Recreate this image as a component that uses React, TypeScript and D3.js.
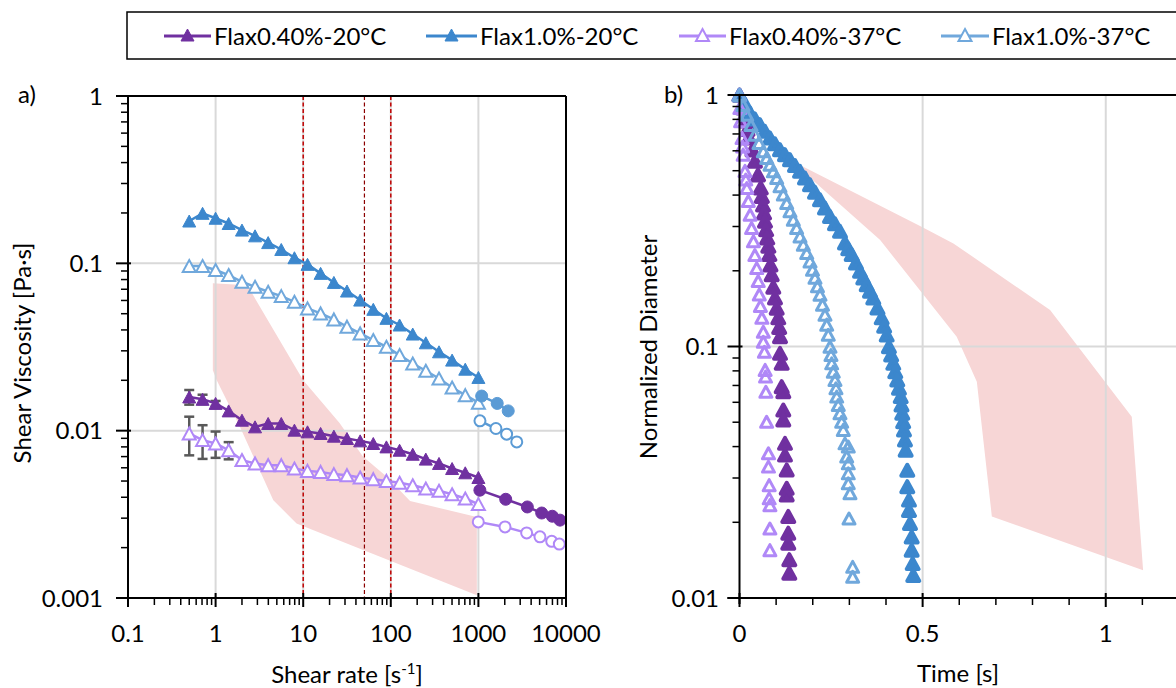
import React from 'react';
import * as d3 from 'd3';

// ---------- Panel a data: shear viscosity vs shear rate ----------
const SHEAR_RATE = [0.5, 0.71, 1.0, 1.41, 2.0, 2.82, 3.98, 5.62, 7.94, 11.2, 15.8, 22.4, 31.6, 44.7, 63.1, 89.1, 126, 178, 251, 355, 501, 708, 1000];
const VISC_040_20 = [0.0159, 0.0154, 0.01455, 0.01313, 0.01155, 0.01054, 0.01104, 0.01104, 0.01007, 0.00984, 0.00962, 0.00927, 0.00898, 0.00869, 0.00838, 0.008, 0.00764, 0.00723, 0.00676, 0.00637, 0.00594, 0.0056, 0.00525];
const VISC_10_20 = [0.179, 0.199, 0.186, 0.173, 0.158, 0.146, 0.133, 0.121, 0.108, 0.0986, 0.0871, 0.0769, 0.0683, 0.0603, 0.0531, 0.0469, 0.0428, 0.0378, 0.0335, 0.0296, 0.0264, 0.0233, 0.0208];
const VISC_040_37 = [0.00962, 0.00878, 0.00838, 0.00764, 0.00667, 0.00637, 0.00622, 0.00622, 0.00594, 0.00575, 0.00567, 0.0055, 0.00542, 0.00525, 0.00513, 0.00501, 0.00488, 0.00472, 0.00451, 0.00437, 0.00417, 0.00393, 0.00364];
const VISC_10_37 = [0.0964, 0.0964, 0.0912, 0.0851, 0.0776, 0.0724, 0.0676, 0.0637, 0.0589, 0.0538, 0.0502, 0.0462, 0.0418, 0.0381, 0.0348, 0.0317, 0.0283, 0.0252, 0.0228, 0.0205, 0.0181, 0.0163, 0.0147];
const ERR_040_20 = [0.0016, 0.001, 0.0005];
const ERR_040_37 = [0.0025, 0.002, 0.0015, 0.0009];

// high shear-rate continuation (circles)
const HI_RATE_040_20 = [1040, 2050, 3620, 5280, 6980, 8550];
const HI_VISC_040_20 = [0.00441, 0.00389, 0.0035, 0.00322, 0.00308, 0.00292];
const HI_RATE_040_37 = [997, 2014, 3556, 5045, 6870, 8390];
const HI_VISC_040_37 = [0.00285, 0.00266, 0.00245, 0.00232, 0.00218, 0.0021];
const HI_RATE_10_20 = [1090, 1640, 2190];
const HI_VISC_10_20 = [0.0161, 0.01455, 0.01313];
const HI_RATE_10_37 = [1042, 1585, 2100, 2740];
const HI_VISC_10_37 = [0.01145, 0.0103, 0.00953, 0.00857];

// shaded band (panel a)
const BAND_A_UP_X = [0.93, 2.3, 10, 26, 48, 90, 166, 960];
const BAND_A_UP_Y = [0.076, 0.074, 0.02, 0.0111, 0.007, 0.0053, 0.0038, 0.00305];
const BAND_A_LO_X = [0.93, 1.03, 1.9, 4.56, 8.4, 960];
const BAND_A_LO_Y = [0.023, 0.02, 0.0105, 0.00384, 0.00279, 0.00104];

// reference shear rates (vertical dashed lines)
const REF_RATES = [10, 50, 100];

// ---------- Panel b data: normalized diameter vs time ----------
const T_040_20 = [0, 0.0096, 0.0177, 0.0218, 0.0259, 0.0355, 0.0423, 0.0505, 0.0579, 0.0609, 0.0642, 0.0669, 0.0696, 0.0726, 0.0756, 0.0786, 0.0814, 0.0846, 0.0879, 0.0923, 0.0969, 0.1016, 0.1059, 0.1084, 0.1106, 0.1106, 0.1152, 0.1152, 0.1196, 0.1196, 0.1196, 0.1242, 0.1242, 0.1289, 0.1289, 0.1289, 0.1332, 0.1332, 0.1332, 0.136, 0.136];
const D_040_20 = [1, 0.888, 0.788, 0.729, 0.675, 0.604, 0.545, 0.481, 0.427, 0.395, 0.365, 0.3395, 0.315, 0.2913, 0.27, 0.2503, 0.232, 0.211, 0.193, 0.172, 0.156, 0.142, 0.13, 0.119, 0.1094, 0.0939, 0.0857, 0.0692, 0.0661, 0.0559, 0.051, 0.0412, 0.037, 0.0323, 0.0273, 0.0257, 0.0211, 0.0181, 0.0165, 0.0142, 0.01254];
const T_10_20 = [0, 0.015, 0.0287, 0.0423, 0.056, 0.0696, 0.0833, 0.0969, 0.1106, 0.1242, 0.1379, 0.1515, 0.1652, 0.1788, 0.1925, 0.2061, 0.2198, 0.2334, 0.2471, 0.2607, 0.2744, 0.288, 0.297, 0.3063, 0.318, 0.329, 0.338, 0.3473, 0.3563, 0.3653, 0.3767, 0.3882, 0.395, 0.4019, 0.408, 0.4141, 0.4199, 0.4253, 0.4308, 0.4354, 0.4401, 0.4423, 0.4444, 0.4469, 0.4491, 0.4518, 0.4537, 0.4581, 0.4581, 0.4627, 0.4627, 0.4655, 0.4701, 0.4701, 0.4728, 0.4745];
const D_10_20 = [1, 0.921, 0.848, 0.803, 0.762, 0.717, 0.675, 0.64, 0.606, 0.579, 0.553, 0.5245, 0.497, 0.4677, 0.44, 0.4108, 0.383, 0.3554, 0.329, 0.3075, 0.287, 0.258, 0.2446, 0.232, 0.2148, 0.199, 0.1872, 0.176, 0.1658, 0.156, 0.1422, 0.13, 0.1203, 0.111, 0.0998, 0.0925, 0.0857, 0.0794, 0.0736, 0.0682, 0.0632, 0.0585, 0.0543, 0.0502, 0.0466, 0.0425, 0.0387, 0.0322, 0.0277, 0.0245, 0.0223, 0.0198, 0.0175, 0.0155, 0.0137, 0.0123];
const T_040_37 = [0, 0.001, 0.003, 0.007, 0.0085, 0.01, 0.015, 0.0172, 0.02, 0.024, 0.029, 0.033, 0.038, 0.042, 0.047, 0.051, 0.054, 0.057, 0.061, 0.065, 0.065, 0.068, 0.07, 0.071, 0.072, 0.074, 0.079, 0.079, 0.081, 0.081, 0.083, 0.083, 0.083];
const D_040_37 = [1, 0.888, 0.786, 0.675, 0.624, 0.579, 0.499, 0.4613, 0.427, 0.379, 0.334, 0.296, 0.262, 0.231, 0.205, 0.182, 0.161, 0.145, 0.13, 0.1145, 0.1044, 0.0953, 0.0807, 0.0759, 0.0661, 0.0502, 0.0376, 0.0333, 0.0281, 0.0249, 0.0234, 0.0189, 0.0155];
const T_10_37 = [0, 0.0096, 0.0197, 0.0314, 0.0423, 0.0532, 0.065, 0.0743, 0.0833, 0.0923, 0.1016, 0.1106, 0.1196, 0.1289, 0.1379, 0.1469, 0.156, 0.1652, 0.1742, 0.1835, 0.1925, 0.1993, 0.2061, 0.2129, 0.2198, 0.2266, 0.2334, 0.2381, 0.2424, 0.2471, 0.2498, 0.2517, 0.2561, 0.2607, 0.2634, 0.2654, 0.2697, 0.2744, 0.279, 0.2834, 0.288, 0.297, 0.2927, 0.297, 0.297, 0.297, 0.3017, 0.299, 0.309, 0.309];
const D_10_37 = [1, 0.912, 0.835, 0.76, 0.695, 0.644, 0.597, 0.562, 0.528, 0.497, 0.468, 0.4335, 0.402, 0.372, 0.345, 0.319, 0.296, 0.274, 0.254, 0.2355, 0.218, 0.202, 0.1875, 0.1735, 0.1607, 0.1466, 0.1338, 0.1221, 0.1114, 0.0998, 0.0925, 0.0857, 0.0794, 0.0736, 0.0682, 0.0632, 0.0585, 0.0543, 0.0502, 0.0466, 0.0412, 0.04, 0.0365, 0.0343, 0.0313, 0.0286, 0.0261, 0.0207, 0.0133, 0.01215];

// shaded band (panel b)
const BAND_B_UP_T = [0.138, 0.497, 0.584, 0.848, 1.071, 1.102];
const BAND_B_UP_D = [0.551, 0.2995, 0.257, 0.1397, 0.0526, 0.0129];
const BAND_B_LO_T = [0.138, 0.384, 0.593, 0.648, 0.689, 1.102];
const BAND_B_LO_D = [0.551, 0.265, 0.1094, 0.0724, 0.0211, 0.0129];

// ---------- labels ----------
const SERIES_NAMES = ['Flax0.40%-20°C', 'Flax1.0%-20°C', 'Flax0.40%-37°C', 'Flax1.0%-37°C'];
const X_TICKS_A = [0.1, 1, 10, 100, 1000, 10000];
const Y_TICKS_A = [0.001, 0.01, 0.1, 1];
const X_TICKS_B = [0, 0.5, 1];
const Y_TICKS_B = [0.01, 0.1, 1];

const C_P20 = '#7030A0';
const C_B20 = '#3C87CD';
const C_P37 = '#B088F7';
const C_B37 = '#70A8DC';
const C_CIRC_B = '#5B9BD5';
const PINK = '#F7D6D6';
const GRID = '#D9D9D9';
const FONT = 'Lato, "Open Sans", sans-serif';
const FS = 24;

const A = { left: 128, right: 566, top: 96, bottom: 598 };
const B = { left: 739.5, right: 1179, top: 95, bottom: 598 };

function tri(cx: number, cy: number, w: number, h: number) {
  return `M${cx},${cy - h / 2}L${cx + w / 2},${cy + h / 2}L${cx - w / 2},${cy + h / 2}Z`;
}

function logMinor(lo: number, hi: number) {
  const out: number[] = [];
  for (let d = lo; d < hi * 0.999; d *= 10) {
    for (let m = 2; m <= 9; m++) out.push(d * m);
  }
  return out;
}

export default function App() {
  const xA = d3.scaleLog().domain([0.1, 10000]).range([A.left, A.right]);
  const yA = d3.scaleLog().domain([0.001, 1]).range([A.bottom, A.top]);
  const xB = d3.scaleLinear().domain([0, 1.2]).range([B.left, B.right]);
  const yB = d3.scaleLog().domain([0.01, 1]).range([B.bottom, B.top]);

  const lineA = d3.line<[number, number]>().x(d => xA(d[0])).y(d => yA(d[1]));
  const zip = (xs: number[], ys: number[]) => xs.map((x, i) => [x, ys[i]] as [number, number]);

  const bandA = [...zip(BAND_A_UP_X, BAND_A_UP_Y), ...zip(BAND_A_LO_X, BAND_A_LO_Y).reverse()];
  const bandAPath = d3.line<[number, number]>().x(d => xA(d[0])).y(d => yA(d[1]))(bandA) + 'Z';
  const bandB = [...zip(BAND_B_UP_T, BAND_B_UP_D), ...zip(BAND_B_LO_T, BAND_B_LO_D).reverse()];
  const bandBPath = d3.line<[number, number]>().x(d => xB(d[0])).y(d => yB(d[1]))(bandB) + 'Z';

  const triSeries = [
    { v: VISC_040_20, c: C_P20, open: false, err: ERR_040_20 },
    { v: VISC_10_20, c: C_B20, open: false, err: [] as number[] },
    { v: VISC_040_37, c: C_P37, open: true, err: ERR_040_37 },
    { v: VISC_10_37, c: C_B37, open: true, err: [] as number[] },
  ];
  const circSeries = [
    { x: HI_RATE_040_20, v: HI_VISC_040_20, c: C_P20, open: false },
    { x: HI_RATE_10_20, v: HI_VISC_10_20, c: C_CIRC_B, open: false },
    { x: HI_RATE_040_37, v: HI_VISC_040_37, c: C_P37, open: true },
    { x: HI_RATE_10_37, v: HI_VISC_10_37, c: C_CIRC_B, open: true },
  ];
  const scatterB = [
    { t: T_040_20, d: D_040_20, c: C_P20, open: false },
    { t: T_10_20, d: D_10_20, c: C_B20, open: false },
    { t: T_040_37, d: D_040_37, c: C_P37, open: true },
    { t: T_10_37, d: D_10_37, c: C_B37, open: true },
  ];

  const minorXA = logMinor(0.1, 10000);
  const minorYA = logMinor(0.001, 1);
  const minorYB = logMinor(0.01, 1);
  const minorXB = d3.range(0, 12).map(i => i / 10).filter(v => Math.abs(v - 0.5) > 1e-6 && Math.abs(v) > 1e-6 && Math.abs(v - 1) > 1e-6);

  const legendItems = [
    { x1: 164, x2: 211, tx: 214, c: C_P20, open: false },
    { x1: 426, x2: 477, tx: 480, c: C_B20, open: false },
    { x1: 679, x2: 726, tx: 729, c: C_P37, open: true },
    { x1: 941, x2: 989, tx: 992, c: C_B37, open: true },
  ];

  return (
    <svg width={1176} height={688} style={{ position: 'absolute', left: 0, top: 0, background: '#fff' }} fontFamily={FONT}>
      <rect x={0} y={0} width={1176} height={688} fill="#fff" />

      {/* Legend */}
      <rect x={127} y={12} width={1100} height={47} fill="#fff" stroke="#000" strokeWidth={1.5} />
      {legendItems.map((it, i) => (
        <g key={'lg' + i}>
          <line x1={it.x1} x2={it.x2} y1={36} y2={36} stroke={it.c} strokeWidth={3} />
          <path d={tri((it.x1 + it.x2) / 2, 35, 13, 12)} fill={it.open ? '#fff' : it.c} stroke={it.c} strokeWidth={it.open ? 2 : 1} />
          <text x={it.tx} y={44.5} fontSize={FS} fill="#000">{SERIES_NAMES[i]}</text>
        </g>
      ))}

      {/* ================= Panel a ================= */}
      <path d={bandAPath} fill={PINK} />
      {[1, 10, 100, 1000].map(v => (
        <line key={'gxa' + v} x1={xA(v)} x2={xA(v)} y1={A.top} y2={A.bottom} stroke={GRID} strokeWidth={2} />
      ))}
      {[0.01, 0.1].map(v => (
        <line key={'gya' + v} x1={A.left} x2={A.right} y1={yA(v)} y2={yA(v)} stroke={GRID} strokeWidth={2} />
      ))}
      {REF_RATES.map((v, i) => (
        <line key={'ref' + v} x1={xA(v)} x2={xA(v)} y1={A.top} y2={A.bottom}
          stroke={i === 1 ? '#8B0000' : '#C00000'} strokeWidth={i === 1 ? 1.2 : 1.5} strokeDasharray="4,2.5" />
      ))}

      {/* error bars */}
      {triSeries.map((s, si) => s.err.map((e, i) => {
        const x = xA(SHEAR_RATE[i]);
        const y1 = yA(s.v[i] + e), y2 = yA(Math.max(s.v[i] - e, 1e-4));
        return (
          <g key={'eb' + si + '-' + i} stroke="#595959" strokeWidth={2.5}>
            <line x1={x} x2={x} y1={y1} y2={y2} />
            <line x1={x - 5} x2={x + 5} y1={y1} y2={y1} />
            <line x1={x - 5} x2={x + 5} y1={y2} y2={y2} />
          </g>
        );
      }))}

      {/* series lines */}
      {triSeries.map((s, si) => (
        <path key={'la' + si} d={lineA(zip(SHEAR_RATE, s.v)) || ''} fill="none" stroke={s.c} strokeWidth={2.5} />
      ))}
      {circSeries.map((s, si) => (
        <path key={'lc' + si} d={lineA(zip(s.x, s.v)) || ''} fill="none" stroke={s.c} strokeWidth={2.5} />
      ))}
      {triSeries.map((s, si) => (
        <g key={'ma' + si}>
          {s.v.map((v, i) => (
            <path key={i} d={tri(xA(SHEAR_RATE[i]), yA(v), 13, 12)}
              fill={s.open ? '#fff' : s.c} stroke={s.c} strokeWidth={s.open ? 2 : 1} />
          ))}
        </g>
      ))}
      {circSeries.map((s, si) => (
        <g key={'mc' + si}>
          {s.v.map((v, i) => (
            <circle key={i} cx={xA(s.x[i])} cy={yA(v)} r={s.open ? 5.5 : 6}
              fill={s.open ? '#fff' : s.c} stroke={s.c} strokeWidth={s.open ? 2 : 1} />
          ))}
        </g>
      ))}

      {/* axes a */}
      <line x1={A.left} x2={A.right} y1={A.top} y2={A.top} stroke="#000" strokeWidth={2} />
      <line x1={A.right} x2={A.right} y1={A.top} y2={A.bottom} stroke="#000" strokeWidth={2} />
      <line x1={A.left} x2={A.left} y1={A.top} y2={A.bottom + 6} stroke="#000" strokeWidth={2} />
      <line x1={A.left - 12} x2={A.right} y1={A.bottom} y2={A.bottom} stroke="#000" strokeWidth={2} />
      {X_TICKS_A.map(v => (
        <g key={'xta' + v}>
          <line x1={xA(v)} x2={xA(v)} y1={A.bottom - 5} y2={A.bottom + 9} stroke="#000" strokeWidth={2} />
          <text x={xA(v)} y={642} fontSize={FS} textAnchor="middle" fill="#000">{String(v)}</text>
        </g>
      ))}
      {minorXA.map((v, i) => (
        <line key={'mxa' + i} x1={xA(v)} x2={xA(v)} y1={A.bottom} y2={A.bottom + 7} stroke="#000" strokeWidth={1.5} />
      ))}
      {Y_TICKS_A.map(v => (
        <g key={'yta' + v}>
          <line x1={A.left - 12} x2={A.left + 3} y1={yA(v)} y2={yA(v)} stroke="#000" strokeWidth={2} />
          <text x={103} y={yA(v)} dy="0.36em" fontSize={FS} textAnchor="end" fill="#000">{String(v)}</text>
        </g>
      ))}
      {minorYA.map((v, i) => (
        <line key={'mya' + i} x1={A.left - 7} x2={A.left} y1={yA(v)} y2={yA(v)} stroke="#000" strokeWidth={1.5} />
      ))}
      <text x={(A.left + A.right) / 2} y={683} fontSize={FS} textAnchor="middle" fill="#000">
        Shear rate [s<tspan dy={-9} fontSize={15}>-1</tspan><tspan dy={9}>]</tspan>
      </text>
      <text transform={`translate(31,353) rotate(-90)`} fontSize={FS} textAnchor="middle" fill="#000">
        Shear Viscosity [Pa·s]
      </text>
      <text x={18} y={103} fontSize={FS} fill="#000">a)</text>

      {/* ================= Panel b ================= */}
      <path d={bandBPath} fill={PINK} />
      {[0.5, 1].map(v => (
        <line key={'gxb' + v} x1={xB(v)} x2={xB(v)} y1={B.top} y2={B.bottom} stroke={GRID} strokeWidth={2} />
      ))}
      <line x1={B.left} x2={B.right} y1={yB(0.1)} y2={yB(0.1)} stroke={GRID} strokeWidth={2} />

      {scatterB.map((s, si) => (
        <g key={'sb' + si}>
          {s.d.map((d, i) => (
            <path key={i} d={tri(xB(s.t[i]), yB(d), 12, 11)}
              fill={s.open ? 'none' : s.c} stroke={s.c} strokeWidth={s.open ? 3 : 4} strokeLinejoin="round" />
          ))}
        </g>
      ))}

      <line x1={B.left} x2={B.right} y1={B.top} y2={B.top} stroke="#000" strokeWidth={2} />
      <line x1={B.left} x2={B.left} y1={B.top} y2={B.bottom + 6} stroke="#000" strokeWidth={2} />
      <line x1={B.left - 12} x2={B.right} y1={B.bottom} y2={B.bottom} stroke="#000" strokeWidth={2} />
      {X_TICKS_B.map(v => (
        <g key={'xtb' + v}>
          <line x1={xB(v)} x2={xB(v)} y1={B.bottom - 5} y2={B.bottom + 9} stroke="#000" strokeWidth={2} />
          <text x={xB(v)} y={642} fontSize={FS} textAnchor="middle" fill="#000">{String(v)}</text>
        </g>
      ))}
      {minorXB.map((v, i) => (
        <line key={'mxb' + i} x1={xB(v)} x2={xB(v)} y1={B.bottom} y2={B.bottom + 7} stroke="#000" strokeWidth={1.5} />
      ))}
      {Y_TICKS_B.map(v => (
        <g key={'ytb' + v}>
          <line x1={B.left - 12} x2={B.left + 3} y1={yB(v)} y2={yB(v)} stroke="#000" strokeWidth={2} />
          <text x={719} y={yB(v)} dy="0.36em" fontSize={FS} textAnchor="end" fill="#000">{String(v)}</text>
        </g>
      ))}
      {minorYB.map((v, i) => (
        <line key={'myb' + i} x1={B.left - 7} x2={B.left} y1={yB(v)} y2={yB(v)} stroke="#000" strokeWidth={1.5} />
      ))}
      <text x={958} y={682} fontSize={FS} textAnchor="middle" fill="#000">Time [s]</text>
      <text transform={`translate(657,347) rotate(-90)`} fontSize={FS} textAnchor="middle" fill="#000">
        Normalized Diameter
      </text>
      <text x={664} y={103} fontSize={FS} fill="#000">b)</text>
    </svg>
  );
}
